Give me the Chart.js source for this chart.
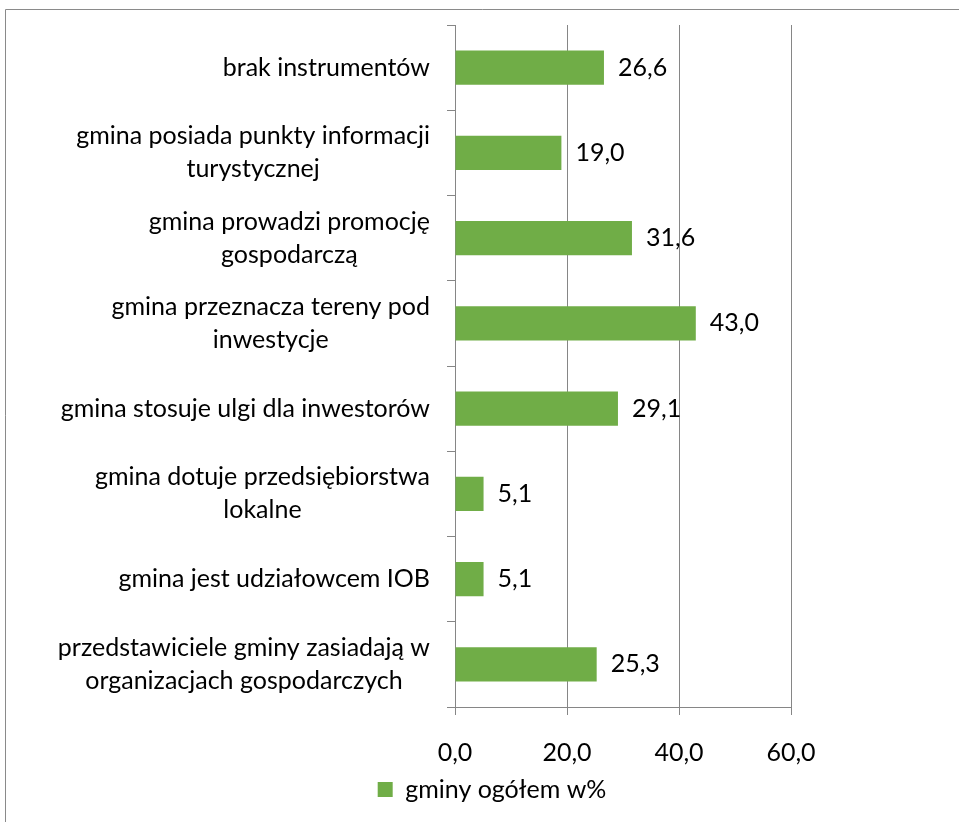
<!DOCTYPE html>
<html>
<head>
<meta charset="utf-8">
<script src="https://cdn.jsdelivr.net/npm/chart.js@4/dist/chart.umd.min.js"></script>
<style>
  html, body { margin: 0; padding: 0; background: #fff; }
  #wrap { width: 959px; height: 822px; }
</style>
</head>
<body>
<div id="wrap"><canvas id="barChart"></canvas></div>
<script>
// category labels (lines of each label)
const categories = [
  ['brak instrumentów'],
  ['gmina posiada punkty informacji', 'turystycznej'],
  ['gmina prowadzi promocję', 'gospodarczą'],
  ['gmina przeznacza tereny pod', 'inwestycje'],
  ['gmina stosuje ulgi dla inwestorów'],
  ['gmina dotuje przedsiębiorstwa', 'lokalne'],
  ['gmina jest udziałowcem IOB'],
  ['przedstawiciele gminy zasiadają w', 'organizacjach gospodarczych']
];
const values = [26.6, 19.0, 31.6, 43.0, 29.1, 5.1, 5.1, 25.3];
const seriesName = 'gminy ogółem w%';
const xTicks = [0, 20, 40, 60];

const FONT = 'Lato';
const FSIZE = 25;
const fmt = v => v.toFixed(1).replace('.', ',');

// outer frame (top and left edge only, as in the source)
const framePlugin = {
  id: 'frame',
  beforeDraw(chart) {
    const c = chart.ctx;
    c.save();
    c.fillStyle = '#fff';
    c.fillRect(0, 0, chart.width, chart.height);
    c.strokeStyle = '#8a8a8a';
    c.lineWidth = 1;
    c.beginPath();
    c.moveTo(5.5, chart.height);
    c.lineTo(5.5, 9.5);
    c.lineTo(chart.width, 9.5);
    c.stroke();
    c.restore();
  }
};

// category labels: block right aligned, lines centred
const catLabels = {
  id: 'catLabels',
  afterDraw(chart) {
    const c = chart.ctx;
    const y = chart.scales.y;
    const right = y.right - 25;
    const lh = 33;
    c.save();
    c.font = FSIZE + 'px "' + FONT + '"';
    c.fillStyle = '#000';
    c.textAlign = 'center';
    c.textBaseline = 'middle';
    categories.forEach((lines, i) => {
      const w = Math.max(...lines.map(l => c.measureText(l).width));
      const cx = right - w / 2;
      const cy = y.getPixelForValue(i);
      lines.forEach((l, k) => {
        c.fillText(l, cx, cy + (k - (lines.length - 1) / 2) * lh);
      });
    });
    c.restore();
  }
};

// value labels at bar end
const valueLabels = {
  id: 'valueLabels',
  afterDatasetsDraw(chart) {
    const c = chart.ctx;
    const meta = chart.getDatasetMeta(0);
    c.save();
    c.font = FSIZE + 'px "' + FONT + '"';
    c.fillStyle = '#000';
    c.textAlign = 'left';
    c.textBaseline = 'middle';
    meta.data.forEach((bar, i) => {
      c.fillText(fmt(values[i]), bar.x + 14, bar.y);
    });
    c.restore();
  }
};

const ctx = document.getElementById('barChart').getContext('2d');
new Chart(ctx, {
  type: 'bar',
  data: {
    labels: categories,
    datasets: [{
      label: seriesName,
      data: values,
      backgroundColor: '#70ad47',
      borderWidth: 0,
      categoryPercentage: 1,
      barPercentage: 0.4
    }]
  },
  options: {
    indexAxis: 'y',
    responsive: true,
    maintainAspectRatio: false,
    animation: false,
    layout: { padding: { top: 25, left: 25, right: 0, bottom: 10 } },
    scales: {
      x: {
        min: 0,
        max: 60,
        afterBuildTicks: s => { s.ticks = xTicks.map(v => ({ value: v })); },
        ticks: {
          callback: v => fmt(v),
          color: '#000',
          font: { family: FONT, size: FSIZE },
          padding: 23,
          maxRotation: 0
        },
        grid: { color: '#868686', tickLength: 8 },
        border: { color: '#868686' },
        afterFit: s => { s.height = 60; }
      },
      y: {
        ticks: { display: false },
        grid: {
          offset: true,
          drawOnChartArea: false,
          drawTicks: true,
          tickLength: 8,
          color: '#868686'
        },
        border: { color: '#868686' },
        afterFit: s => { s.width = 430; }
      },
      yRight: {
        type: 'linear',
        position: 'right',
        display: true,
        ticks: { display: false },
        grid: { display: false },
        border: { display: false },
        afterFit: s => { s.width = 168; }
      }
    },
    plugins: {
      legend: {
        position: 'bottom',
        labels: {
          boxWidth: 15,
          boxHeight: 15,
          color: '#000',
          font: { family: FONT, size: FSIZE },
          padding: 10
        }
      },
      tooltip: { enabled: false }
    }
  },
  plugins: [framePlugin, catLabels, valueLabels]
});
</script>
</body>
</html>
